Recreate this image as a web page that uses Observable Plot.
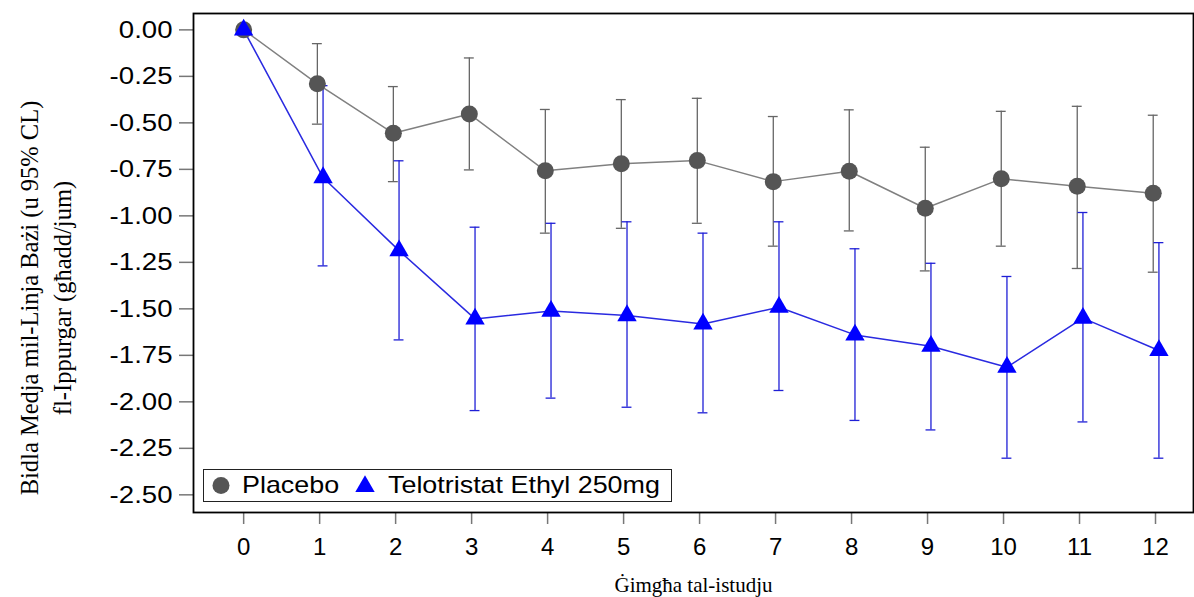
<!DOCTYPE html>
<html>
<head>
<meta charset="utf-8">
<script src="https://cdn.jsdelivr.net/npm/d3@7"></script>
<script src="https://cdn.jsdelivr.net/npm/@observablehq/plot@0.6"></script>
<style>
  html, body { margin: 0; padding: 0; background: #fff; }
  #wrap { position: relative; width: 1194px; height: 597px; }
  #legend {
    position: absolute; left: 203px; top: 469px; width: 469px; height: 33px;
    border: 1.5px solid #222; box-sizing: border-box; background: #fff;
    font-family: Arial, "Liberation Sans", sans-serif; font-size: 24px; color: #000;
  }
  #legend svg { position: absolute; top: 0; }
  #legend span { position: absolute; top: 1px; line-height: 28px; white-space: nowrap;
    transform: scaleX(1.12); transform-origin: left center; }
</style>
</head>
<body>
<div id="wrap"></div>
<script>
// ---- data ----
const weeks = [0, 1, 2, 3, 4, 5, 6, 7, 8, 9, 10, 11, 12];

const placeboMean  = [0.00, -0.29, -0.556, -0.452, -0.758, -0.720, -0.703, -0.816, -0.760, -0.959, -0.801, -0.841, -0.878];
const placeboUpper = [0.00, -0.074, -0.305, -0.151, -0.428, -0.375, -0.368, -0.466, -0.430, -0.631, -0.438, -0.411, -0.459];
const placeboLower = [0.00, -0.507, -0.816, -0.753, -1.093, -1.067, -1.040, -1.163, -1.081, -1.296, -1.163, -1.283, -1.303];

const teloMean  = [0.00, -0.794, -1.187, -1.554, -1.512, -1.536, -1.581, -1.491, -1.640, -1.701, -1.814, -1.550, -1.724];
const teloUpper = [0.00, -0.300, -0.704, -1.061, -1.040, -1.032, -1.093, -1.032, -1.177, -1.255, -1.326, -0.982, -1.144];
const teloLower = [0.00, -1.269, -1.667, -2.047, -1.980, -2.029, -2.059, -1.939, -2.100, -2.151, -2.303, -2.108, -2.303];

const seriesNames = ["Placebo", "Telotristat Ethyl 250mg"];
const yTicks = [0, -0.25, -0.5, -0.75, -1, -1.25, -1.5, -1.75, -2, -2.25, -2.5];
const xTitle = "Ġimgħa tal-istudju";
const yTitle = "Bidla Medja mil-Linja Bażi (u 95% CL)\nfl-Ippurgar (għadd/jum)";

// ---- build table ----
const offsets = {"Placebo": -0.03, "Telotristat Ethyl 250mg": 0.045};
const rows = [];
weeks.forEach((w, i) => {
  rows.push({series: seriesNames[0], week: w, mean: placeboMean[i], lo: placeboLower[i], hi: placeboUpper[i]});
  rows.push({series: seriesNames[1], week: w, mean: teloMean[i], lo: teloLower[i], hi: teloUpper[i]});
});
const P = rows.filter(d => d.series === seriesNames[0]);
const T = rows.filter(d => d.series === seriesNames[1]);
const xo = d => d.week + (d.week > 0 ? offsets[d.series] : 0);
const capHalf = 0.065;
const ciRows = rows.filter(d => d.week > 0);

const gray = "#555555", grayLine = "#808080", grayCI = "#666666";
const blue = "#0000ff", blueLine = "#2a2ae0", blueCI = "#1f1fd6";
const ciColor = d => d.series === seriesNames[0] ? grayCI : blueCI;
const serif = "'Liberation Serif', 'Times New Roman', serif";

const chart = Plot.plot({
  width: 1194,
  height: 597,
  marginLeft: 193,
  marginRight: 1,
  marginTop: 13,
  marginBottom: 85,
  style: {fontFamily: "Arial, 'Liberation Sans', sans-serif", background: "white"},
  x: {domain: [-0.66, 12.5]},
  y: {domain: [-2.595, 0.088]},
  marks: [
    Plot.axisX({ticks: weeks, tickSize: 12, tickPadding: 13, stroke: "#777", strokeWidth: 1.5, fill: "#000", fontSize: 24, label: null, tickFormat: d => String(d)}),
    Plot.axisY({ticks: yTicks, tickSize: 14, tickPadding: 7, stroke: "#777", strokeWidth: 1.5, fill: "#000", fontSize: 24, label: null, tickFormat: d => (Math.abs(d) < 1e-9 ? 0 : d).toFixed(2)}),
    // error bars
    Plot.ruleX(ciRows, {x: xo, y1: "lo", y2: "hi", stroke: ciColor, strokeWidth: 1.3}),
    Plot.ruleY(ciRows, {y: "hi", x1: d => xo(d) - capHalf, x2: d => xo(d) + capHalf, stroke: ciColor, strokeWidth: 1.3}),
    Plot.ruleY(ciRows, {y: "lo", x1: d => xo(d) - capHalf, x2: d => xo(d) + capHalf, stroke: ciColor, strokeWidth: 1.3}),
    // lines
    Plot.line(P, {x: xo, y: "mean", stroke: grayLine, strokeWidth: 1.5}),
    Plot.line(T, {x: xo, y: "mean", stroke: blueLine, strokeWidth: 1.5}),
    // markers
    Plot.dot(P, {x: xo, y: "mean", r: 8.5, fill: gray, stroke: "none", symbol: "circle"}),
    Plot.dot(T, {x: xo, y: "mean", r: 7.2, fill: blue, stroke: "none", symbol: "triangle"}),
    Plot.frame({stroke: "#000", strokeWidth: 1.8}),
    // axis titles
    Plot.text([yTitle], {text: d => d, frameAnchor: "left", textAnchor: "middle", lineAnchor: "middle", rotate: -90, dx: -150, dy: 35, fontSize: 24.5, lineHeight: 1.36, fontFamily: serif, fill: "#000"}),
    Plot.text([xTitle], {text: d => d, frameAnchor: "bottom", textAnchor: "middle", dy: 79, fontSize: 21, fontFamily: serif, fill: "#000"})
  ]
});

const wrap = document.getElementById("wrap");
wrap.appendChild(chart);

// slightly widen y tick labels (the reference lettering is horizontally stretched)
chart.querySelectorAll('g[aria-label="y-axis tick label"] text').forEach(t => {
  try {
    const len = t.getComputedTextLength();
    if (len > 0) {
      t.setAttribute("textLength", (len * 1.15).toFixed(1));
      t.setAttribute("lengthAdjust", "spacingAndGlyphs");
    }
  } catch (e) {}
});

// legend (HTML overlay inside the plot frame)
const legend = document.createElement("div");
legend.id = "legend";
const triPath = d3.symbol(d3.symbolTriangle, Math.PI * 7.2 * 7.2)();
legend.innerHTML = `
  <svg width="30" height="30" style="left:2px"><circle cx="15" cy="15.5" r="8.5" fill="${gray}"/></svg>
  <span style="left:38px">${seriesNames[0]}</span>
  <svg width="30" height="30" style="left:146px"><path d="${triPath}" transform="translate(15,16.5)" fill="${blue}"/></svg>
  <span style="left:184px">${seriesNames[1]}</span>`;
wrap.appendChild(legend);
</script>
</body>
</html>
